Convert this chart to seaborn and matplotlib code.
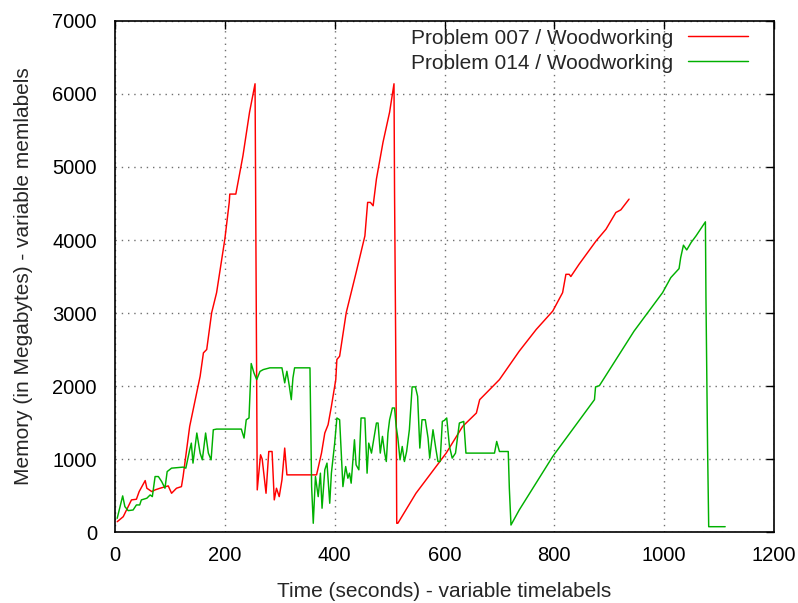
import matplotlib
matplotlib.use("Agg")
import matplotlib.pyplot as plt
import seaborn as sns
import pandas as pd

label_007 = "Problem 007 / Woodworking"
label_014 = "Problem 014 / Woodworking"

t_007 = [4, 15, 27, 30, 39, 44, 55, 58, 67, 73, 82, 97, 103, 112, 121, 124, 136, 155, 161, 167,
         176, 185, 200, 208, 209, 220, 224, 233, 245, 255, 256, 258, 259, 265, 268, 275, 280, 286, 290, 294,
         299, 304, 309, 313, 367, 376, 382, 388, 394, 402, 404, 409, 421, 439, 455, 460, 465, 470, 476, 488,
         500, 508, 509, 512, 513, 515, 548, 603, 633, 658, 664, 688, 700, 736, 767, 797, 815, 821, 827, 830,
         845, 876, 894, 912, 921, 936]
m_007 = [141, 210, 394, 440, 449, 554, 705, 600, 554, 577, 600, 632, 531, 600, 622, 760, 1447, 2133, 2454, 2500,
         3004, 3279, 4011, 4515, 4629, 4629, 4790, 5155, 5751, 6140, 4766, 1996, 577, 1058, 1000, 531, 1103, 1103, 440, 600,
         485, 714, 1150, 783, 783, 1081, 1356, 1470, 1721, 2088, 2363, 2408, 3004, 3553, 4056, 4515, 4515, 4469, 4835, 5339,
         5751, 6140, 4652, 1676, 120, 120, 531, 1081, 1447, 1630, 1813, 1996, 2088, 2477, 2775, 3026, 3279, 3530, 3530, 3500,
         3668, 3988, 4148, 4377, 4413, 4560]

t_014 = [4, 14, 18, 24, 33, 39, 45, 48, 58, 64, 68, 73, 79, 85, 91, 95, 103, 124, 129, 136,
         139, 142, 149, 155, 159, 165, 170, 175, 179, 185, 230, 235, 239, 244, 248, 253, 258, 264, 270, 282,
         304, 309, 313, 317, 321, 324, 327, 355, 356, 358, 361, 365, 370, 374, 377, 382, 386, 391, 394, 400,
         404, 409, 412, 415, 420, 424, 427, 430, 436, 439, 444, 448, 455, 459, 462, 467, 471, 476, 479, 483,
         487, 491, 494, 497, 500, 505, 509, 512, 515, 519, 523, 527, 531, 536, 541, 547, 551, 555, 559, 565,
         570, 573, 579, 584, 588, 592, 596, 600, 604, 609, 614, 620, 627, 635, 639, 691, 695, 700, 712, 716,
         718, 721, 736, 797, 873, 875, 882, 945, 988, 997, 1012, 1027, 1030, 1035, 1041, 1049, 1058, 1075, 1076, 1079,
         1081, 1111]
m_014 = [188, 495, 348, 293, 302, 371, 371, 440, 463, 508, 485, 760, 760, 691, 600, 828, 875, 889, 875, 1126,
         1218, 944, 1356, 1081, 989, 1356, 1081, 989, 1401, 1410, 1410, 1287, 1538, 1562, 2308, 2180, 2088, 2200, 2225, 2249,
         2249, 2043, 2202, 2019, 1813, 2111, 2249, 2249, 1721, 622, 120, 760, 485, 806, 326, 852, 944, 394, 806, 1218,
         1562, 1538, 1081, 622, 897, 737, 806, 669, 1264, 920, 852, 1562, 1562, 806, 1218, 1081, 1264, 1493, 1493, 1081,
         1310, 1081, 966, 1356, 1538, 1699, 1699, 1447, 1287, 989, 1172, 966, 1103, 1401, 1988, 1988, 1859, 1150, 1538, 1538,
         1287, 1012, 1401, 1150, 966, 966, 1515, 1530, 1562, 1172, 1012, 1081, 1493, 1515, 1081, 1081, 1241, 1103, 1103, 1103,
         600, 96, 302, 1035, 1813, 1988, 2005, 2751, 3187, 3279, 3485, 3608, 3759, 3929, 3864, 3966, 4057, 4249, 3210, 1126,
         73, 73]

x_ticks = [0, 200, 400, 600, 800, 1000, 1200]
y_ticks = [0, 1000, 2000, 3000, 4000, 5000, 6000, 7000]

sns.set_style("white")
plt.rcParams["font.family"] = ["Liberation Sans", "DejaVu Sans"]

fig = plt.figure(figsize=(7.98, 6.03), dpi=100)
ax = fig.add_axes([0.1441, 0.1177, 0.8259, 0.8475])

sns.lineplot(x=t_007, y=m_007, ax=ax, color="#ff0000", lw=1.05, estimator=None, sort=False, label=label_007)
sns.lineplot(x=t_014, y=m_014, ax=ax, color="#00b000", lw=1.05, estimator=None, sort=False, label=label_014)

ax.set_xlim(0, 1200)
ax.set_ylim(0, 7000)
ax.set_xticks(x_ticks)
ax.set_yticks(y_ticks)
ax.set_xticklabels([str(v) for v in x_ticks])
ax.set_yticklabels([str(v) for v in y_ticks])
ax.tick_params(direction="in", length=6, width=1, top=True, right=True, labelsize=14.5, colors="black")
ax.tick_params(axis="x", pad=10)
ax.tick_params(axis="y", pad=13)
ax.grid(True, color="#707070", linestyle=(0, (1, 3.5)), lw=1.0)
for s in ax.spines.values():
    s.set_visible(True)
    s.set_color("black")
    s.set_linewidth(1.2)

ax.set_xlabel("Time (seconds) - variable timelabels", fontsize=15, labelpad=12)
ax.set_ylabel("Memory (in Megabytes) - variable memlabels", fontsize=15, labelpad=14)

ax.legend(loc="upper right", bbox_to_anchor=(0.967, 0.993), markerfirst=False, frameon=False,
          handlelength=2.9, fontsize=15, labelspacing=0.28, borderaxespad=0, borderpad=0.2, handletextpad=0.7)

fig.savefig("out.png", dpi=100)
